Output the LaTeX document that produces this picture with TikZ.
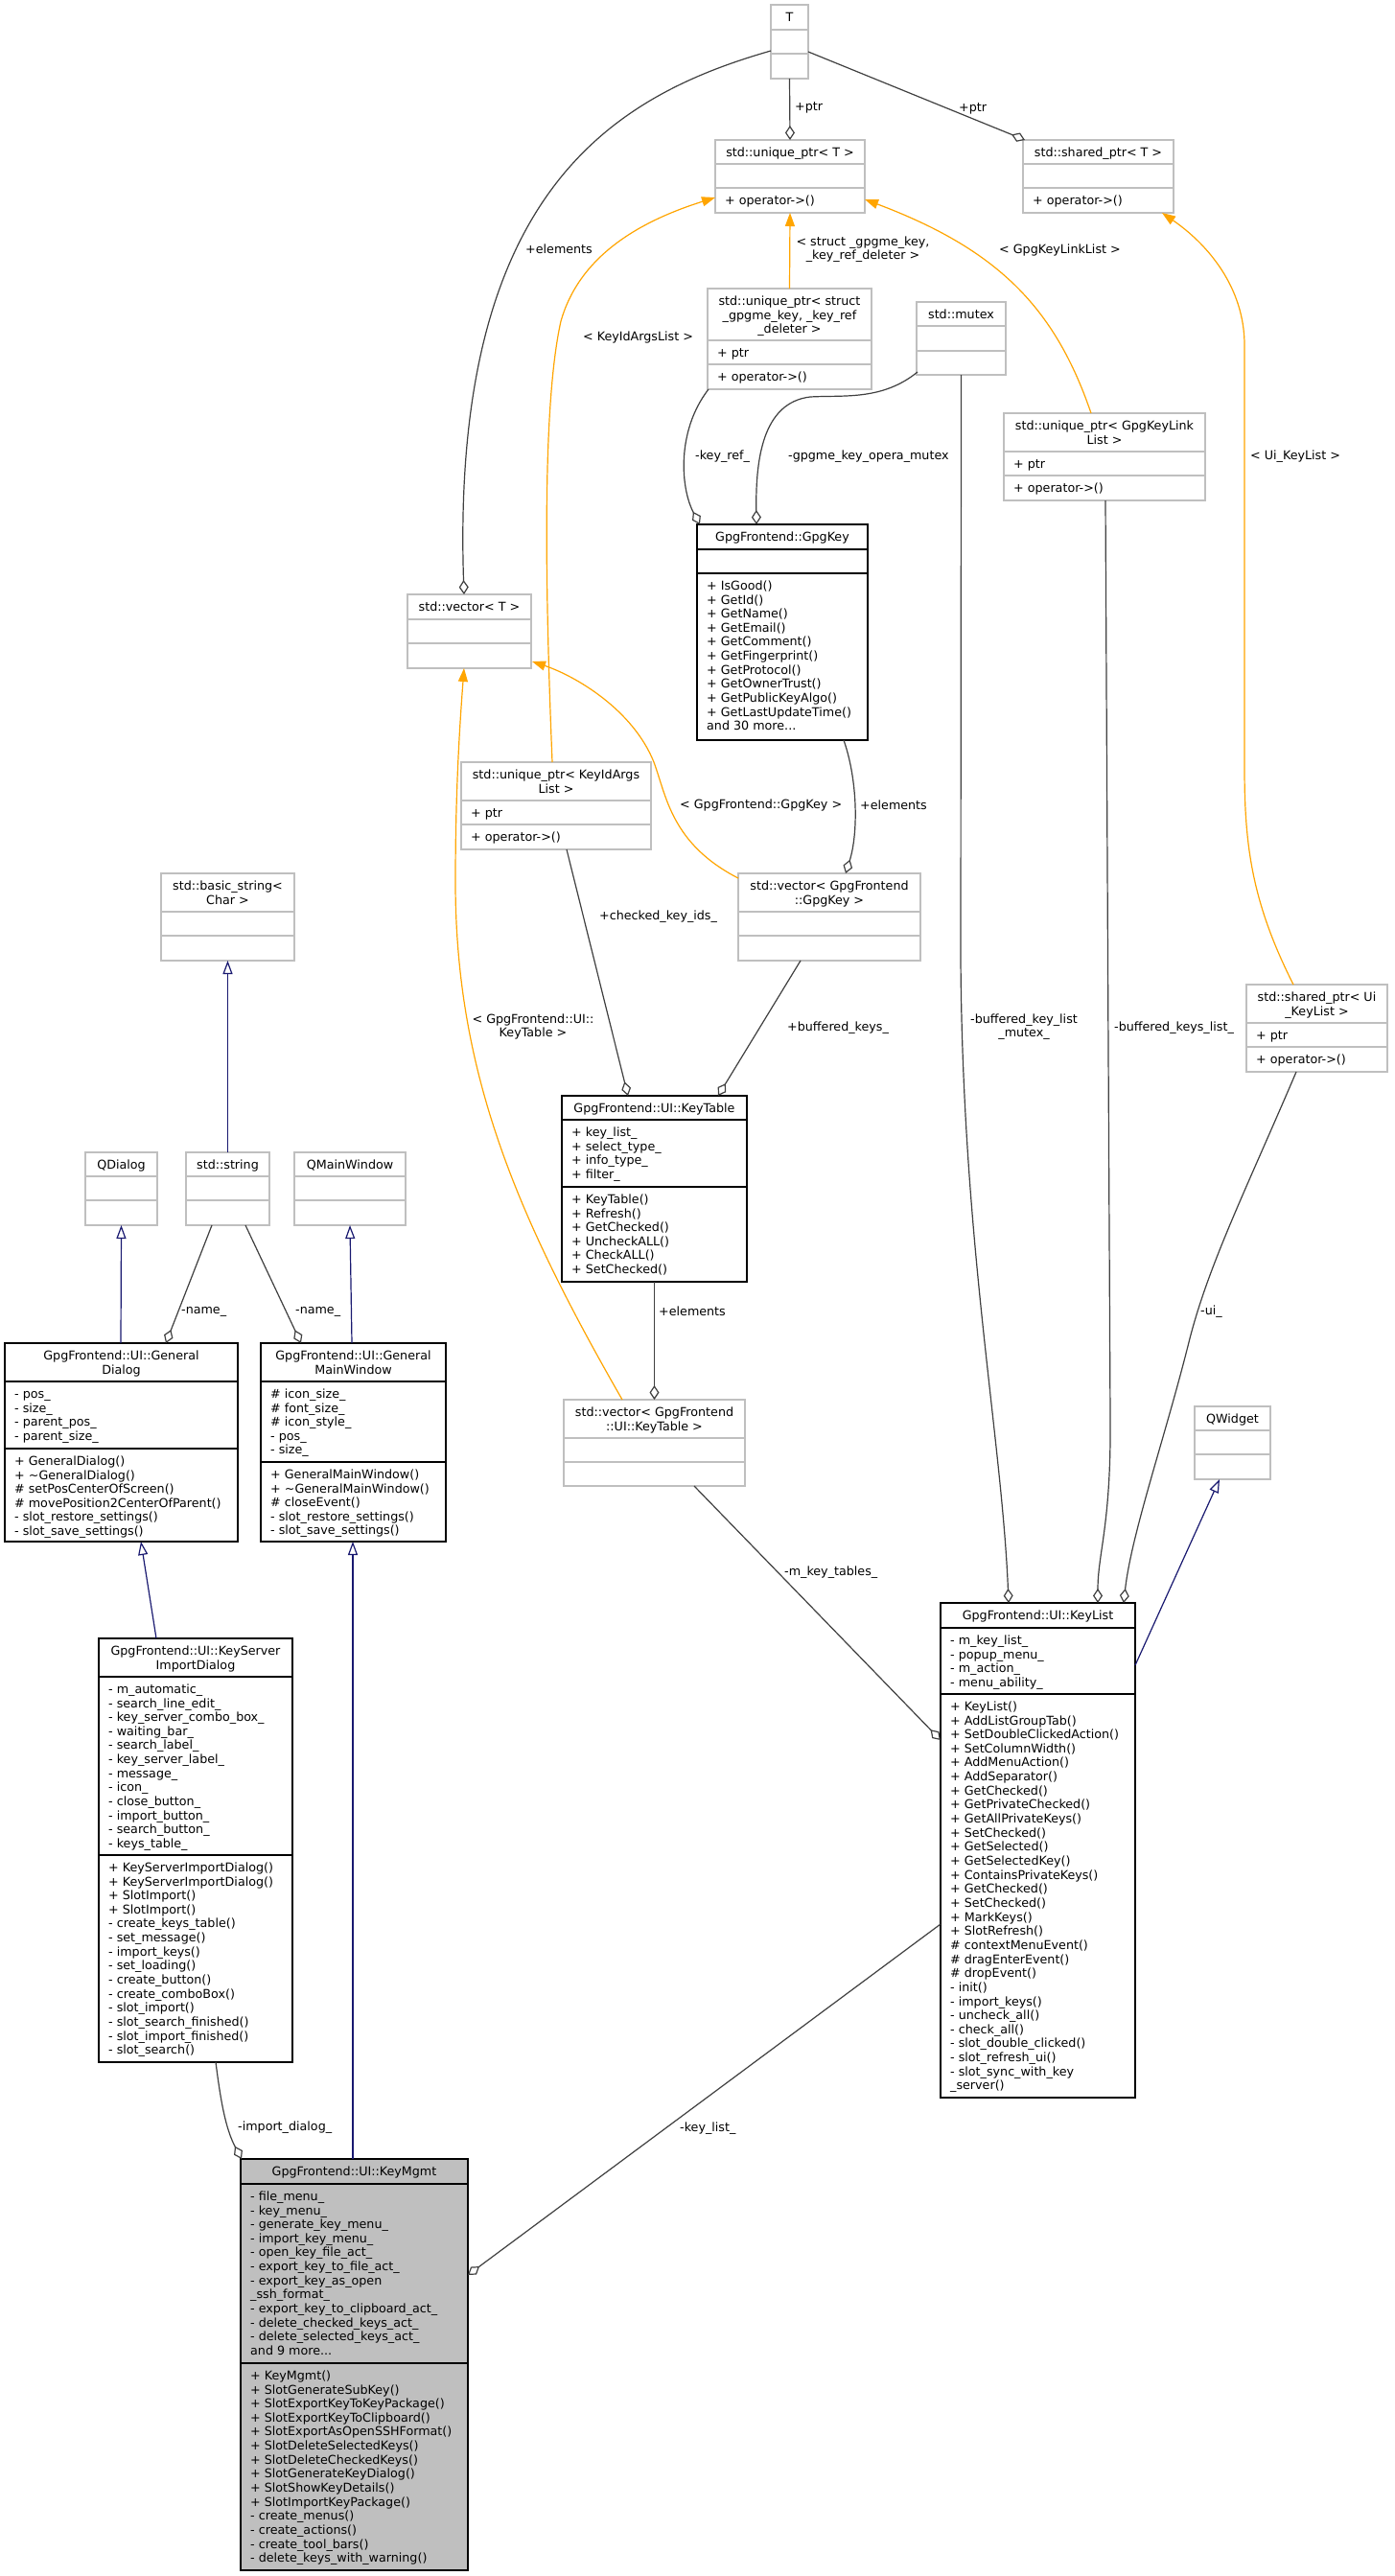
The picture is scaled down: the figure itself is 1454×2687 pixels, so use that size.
\documentclass[tikz,border=0pt]{standalone}
\usepackage{fontspec}
\setmainfont{DejaVu Sans}
\usetikzlibrary{arrows.meta,calc}
\definecolor{grey75}{HTML}{BFBFBF}
\definecolor{grey25}{HTML}{404040}
\definecolor{dxnavy}{HTML}{191970}
\definecolor{dxorange}{HTML}{FFA500}
\newcommand\dxfont{\fontsize{12.7pt}{14.65pt}\selectfont}
\newcommand\dxst{\rule[-3pt]{0pt}{14.65pt}}
\newcommand\dxbox[6]{\node[#6, anchor=north west, minimum width={#4-#2}, minimum height={#5-#3}] (#1) at (#2,#3) {};}
\newcommand\dxsep[4]{\draw[#4] (#1,#3) -- (#2,#3);}
\newcommand\dxtitle[4]{\node[ttltext] (#1) at (#2,{#3+5.5}) {\dxst #4};}
\newcommand\dxmem[4]{\node[memtext] (#1) at ({#2+10},{#3+5.5}) {\dxst #4};}
\tikzset{
  gbox/.style={draw=grey75, line width=1.5pt, fill=white, inner sep=0pt, outer sep=0pt},
  bbox/.style={draw=black, line width=1.5pt, fill=white, inner sep=0pt, outer sep=0pt},
  mgbox/.style={draw=black, line width=1.5pt, fill=grey75, inner sep=0pt, outer sep=0pt},
  gsep/.style={draw=grey75, line width=1.5pt},
  bsep/.style={draw=black, line width=1.5pt},
  ttltext/.style={anchor=north, align=center, inner sep=0pt, font=\dxfont},
  memtext/.style={anchor=north west, align=left, inner sep=0pt, font=\dxfont},
  lbl/.style={anchor=west, inner sep=0pt, font=\dxfont},
  lblc/.style={anchor=center, align=center, inner sep=0pt, font=\dxfont},
  usearrow/.style={draw=grey25, line width=1.2pt, -{Diamond[open,length=15pt,width=10pt]}},
  tmplarrow/.style={draw=dxorange, line width=1.2pt, -{Triangle[length=14pt,width=10pt,fill=dxorange]}},
  inharrow/.style={draw=dxnavy, line width=1.2pt, -{Triangle[open,length=14pt,width=10pt]}},
}
\begin{document}
\begin{tikzpicture}[x=1pt,y=-1pt]
\useasboundingbox (0,0) rectangle (1454,2687);
\fill[white] (0,0) rectangle (1454,2687);

% ---------- boxes ----------
% T
\dxbox{T}{804}{5}{843}{82}{gbox}
\dxsep{804}{843}{31}{gsep}\dxsep{804}{843}{56}{gsep}
\dxtitle{T-t}{823.5}{5}{T}
% unique_ptr<T>
\dxbox{uptrT}{746}{146}{902}{222}{gbox}
\dxsep{746}{902}{171}{gsep}\dxsep{746}{902}{196}{gsep}
\dxtitle{uptrT-t}{824}{146}{std::unique\_ptr< T >}
\dxmem{uptrT-m}{746}{196}{+ operator->()}
% shared_ptr<T>
\dxbox{sptrT}{1067}{146}{1224}{222}{gbox}
\dxsep{1067}{1224}{171}{gsep}\dxsep{1067}{1224}{196}{gsep}
\dxtitle{sptrT-t}{1145.5}{146}{std::shared\_ptr< T >}
\dxmem{sptrT-m}{1067}{196}{+ operator->()}
% unique_ptr<struct _gpgme_key, _key_ref_deleter>
\dxbox{uptrKey}{738}{301}{909}{406}{gbox}
\dxsep{738}{909}{355}{gsep}\dxsep{738}{909}{380}{gsep}
\dxtitle{uptrKey-t}{823.5}{301}{std::unique\_ptr< struct\\\_gpgme\_key, \_key\_ref\\\_deleter >}
\dxmem{uptrKey-a}{738}{355}{+ ptr}
\dxmem{uptrKey-m}{738}{380}{+ operator->()}
% std::mutex
\dxbox{mutex}{956}{315}{1049}{391}{gbox}
\dxsep{956}{1049}{340}{gsep}\dxsep{956}{1049}{366}{gsep}
\dxtitle{mutex-t}{1002.5}{315}{std::mutex}
% unique_ptr<GpgKeyLinkList>
\dxbox{uptrLink}{1047}{431}{1257}{522}{gbox}
\dxsep{1047}{1257}{471}{gsep}\dxsep{1047}{1257}{496}{gsep}
\dxtitle{uptrLink-t}{1152}{431}{std::unique\_ptr< GpgKeyLink\\List >}
\dxmem{uptrLink-a}{1047}{471}{+ ptr}
\dxmem{uptrLink-m}{1047}{496}{+ operator->()}
% GpgKey
\dxbox{GpgKey}{727}{547}{905}{772}{bbox}
\dxsep{727}{905}{573}{bsep}\dxsep{727}{905}{598}{bsep}
\dxtitle{GpgKey-t}{816}{547}{GpgFrontend::GpgKey}
\dxmem{GpgKey-m}{727}{598}{+ IsGood()\\+ GetId()\\+ GetName()\\+ GetEmail()\\+ GetComment()\\+ GetFingerprint()\\+ GetProtocol()\\+ GetOwnerTrust()\\+ GetPublicKeyAlgo()\\+ GetLastUpdateTime()\\and 30 more...}
% std::vector<T>
\dxbox{vecT}{425}{620}{554}{697}{gbox}
\dxsep{425}{554}{646}{gsep}\dxsep{425}{554}{671}{gsep}
\dxtitle{vecT-t}{489.5}{620}{std::vector< T >}
% unique_ptr<KeyIdArgsList>
\dxbox{uptrArgs}{481}{795}{679}{886}{gbox}
\dxsep{481}{679}{835}{gsep}\dxsep{481}{679}{860}{gsep}
\dxtitle{uptrArgs-t}{580}{795}{std::unique\_ptr< KeyIdArgs\\List >}
\dxmem{uptrArgs-a}{481}{835}{+ ptr}
\dxmem{uptrArgs-m}{481}{860}{+ operator->()}
% vector<GpgKey>
\dxbox{vecKey}{770}{911}{960}{1002}{gbox}
\dxsep{770}{960}{951}{gsep}\dxsep{770}{960}{976}{gsep}
\dxtitle{vecKey-t}{865}{911}{std::vector< GpgFrontend\\::GpgKey >}
% basic_string<Char>
\dxbox{bstr}{168}{911}{307}{1002}{gbox}
\dxsep{168}{307}{951}{gsep}\dxsep{168}{307}{976}{gsep}
\dxtitle{bstr-t}{237.5}{911}{std::basic\_string<\\Char >}
% shared_ptr<Ui_KeyList>
\dxbox{sptrUi}{1300}{1027}{1447}{1118}{gbox}
\dxsep{1300}{1447}{1067}{gsep}\dxsep{1300}{1447}{1092}{gsep}
\dxtitle{sptrUi-t}{1373.5}{1027}{std::shared\_ptr< Ui\\\_KeyList >}
\dxmem{sptrUi-a}{1300}{1067}{+ ptr}
\dxmem{sptrUi-m}{1300}{1092}{+ operator->()}
% KeyTable
\dxbox{KeyTable}{586}{1143}{779}{1337}{bbox}
\dxsep{586}{779}{1168}{bsep}\dxsep{586}{779}{1238}{bsep}
\dxtitle{KeyTable-t}{682.5}{1143}{GpgFrontend::UI::KeyTable}
\dxmem{KeyTable-a}{586}{1168}{+ key\_list\_\\+ select\_type\_\\+ info\_type\_\\+ filter\_}
\dxmem{KeyTable-m}{586}{1238}{+ KeyTable()\\+ Refresh()\\+ GetChecked()\\+ UncheckALL()\\+ CheckALL()\\+ SetChecked()}
% QDialog
\dxbox{QDialog}{89}{1202}{164}{1278}{gbox}
\dxsep{89}{164}{1227}{gsep}\dxsep{89}{164}{1252}{gsep}
\dxtitle{QDialog-t}{126.5}{1202}{QDialog}
% std::string
\dxbox{string}{194}{1202}{281}{1278}{gbox}
\dxsep{194}{281}{1227}{gsep}\dxsep{194}{281}{1252}{gsep}
\dxtitle{string-t}{237.5}{1202}{std::string}
% QMainWindow
\dxbox{QMainWindow}{307}{1202}{423}{1278}{gbox}
\dxsep{307}{423}{1227}{gsep}\dxsep{307}{423}{1252}{gsep}
\dxtitle{QMainWindow-t}{365}{1202}{QMainWindow}
% GeneralDialog
\dxbox{GenDlg}{5}{1401}{248}{1608}{bbox}
\dxsep{5}{248}{1441}{bsep}\dxsep{5}{248}{1511}{bsep}
\dxtitle{GenDlg-t}{126.5}{1401}{GpgFrontend::UI::General\\Dialog}
\dxmem{GenDlg-a}{5}{1441}{- pos\_\\- size\_\\- parent\_pos\_\\- parent\_size\_}
\dxmem{GenDlg-m}{5}{1511}{+ GeneralDialog()\\+ \textasciitilde GeneralDialog()\\\# setPosCenterOfScreen()\\\# movePosition2CenterOfParent()\\- slot\_restore\_settings()\\- slot\_save\_settings()}
% GeneralMainWindow
\dxbox{GenMW}{272}{1401}{465}{1608}{bbox}
\dxsep{272}{465}{1441}{bsep}\dxsep{272}{465}{1525}{bsep}
\dxtitle{GenMW-t}{368.5}{1401}{GpgFrontend::UI::General\\MainWindow}
\dxmem{GenMW-a}{272}{1441}{\# icon\_size\_\\\# font\_size\_\\\# icon\_style\_\\- pos\_\\- size\_}
\dxmem{GenMW-m}{272}{1525}{+ GeneralMainWindow()\\+ \textasciitilde GeneralMainWindow()\\\# closeEvent()\\- slot\_restore\_settings()\\- slot\_save\_settings()}
% vector<KeyTable>
\dxbox{vecKT}{588}{1460}{777}{1550}{gbox}
\dxsep{588}{777}{1500}{gsep}\dxsep{588}{777}{1525}{gsep}
\dxtitle{vecKT-t}{682.5}{1460}{std::vector< GpgFrontend\\::UI::KeyTable >}
% QWidget
\dxbox{QWidget}{1246}{1467}{1325}{1543}{gbox}
\dxsep{1246}{1325}{1492}{gsep}\dxsep{1246}{1325}{1517}{gsep}
\dxtitle{QWidget-t}{1285.5}{1467}{QWidget}
% KeyList
\dxbox{KeyList}{981}{1672}{1184}{2188}{bbox}
\dxsep{981}{1184}{1698}{bsep}\dxsep{981}{1184}{1767}{bsep}
\dxtitle{KeyList-t}{1082.5}{1672}{GpgFrontend::UI::KeyList}
\dxmem{KeyList-a}{981}{1698}{- m\_key\_list\_\\- popup\_menu\_\\- m\_action\_\\- menu\_ability\_}
\dxmem{KeyList-m}{981}{1767}{+ KeyList()\\+ AddListGroupTab()\\+ SetDoubleClickedAction()\\+ SetColumnWidth()\\+ AddMenuAction()\\+ AddSeparator()\\+ GetChecked()\\+ GetPrivateChecked()\\+ GetAllPrivateKeys()\\+ SetChecked()\\+ GetSelected()\\+ GetSelectedKey()\\+ ContainsPrivateKeys()\\+ GetChecked()\\+ SetChecked()\\+ MarkKeys()\\+ SlotRefresh()\\\# contextMenuEvent()\\\# dragEnterEvent()\\\# dropEvent()\\- init()\\- import\_keys()\\- uncheck\_all()\\- check\_all()\\- slot\_double\_clicked()\\- slot\_refresh\_ui()\\- slot\_sync\_with\_key\\\_server()}
% KeyServerImportDialog
\dxbox{KSID}{103}{1709}{305}{2151}{bbox}
\dxsep{103}{305}{1749}{bsep}\dxsep{103}{305}{1935}{bsep}
\dxtitle{KSID-t}{204}{1709}{GpgFrontend::UI::KeyServer\\ImportDialog}
\dxmem{KSID-a}{103}{1749}{- m\_automatic\_\\- search\_line\_edit\_\\- key\_server\_combo\_box\_\\- waiting\_bar\_\\- search\_label\_\\- key\_server\_label\_\\- message\_\\- icon\_\\- close\_button\_\\- import\_button\_\\- search\_button\_\\- keys\_table\_}
\dxmem{KSID-m}{103}{1935}{+ KeyServerImportDialog()\\+ KeyServerImportDialog()\\+ SlotImport()\\+ SlotImport()\\- create\_keys\_table()\\- set\_message()\\- import\_keys()\\- set\_loading()\\- create\_button()\\- create\_comboBox()\\- slot\_import()\\- slot\_search\_finished()\\- slot\_import\_finished()\\- slot\_search()}
% KeyMgmt
\dxbox{KeyMgmt}{251}{2252}{488}{2681}{mgbox}
\dxsep{251}{488}{2278}{bsep}\dxsep{251}{488}{2465}{bsep}
\dxtitle{KeyMgmt-t}{369.5}{2252}{GpgFrontend::UI::KeyMgmt}
\dxmem{KeyMgmt-a}{251}{2278}{- file\_menu\_\\- key\_menu\_\\- generate\_key\_menu\_\\- import\_key\_menu\_\\- open\_key\_file\_act\_\\- export\_key\_to\_file\_act\_\\- export\_key\_as\_open\\\_ssh\_format\_\\- export\_key\_to\_clipboard\_act\_\\- delete\_checked\_keys\_act\_\\- delete\_selected\_keys\_act\_\\and 9 more...}
\dxmem{KeyMgmt-m}{251}{2465}{+ KeyMgmt()\\+ SlotGenerateSubKey()\\+ SlotExportKeyToKeyPackage()\\+ SlotExportKeyToClipboard()\\+ SlotExportAsOpenSSHFormat()\\+ SlotDeleteSelectedKeys()\\+ SlotDeleteCheckedKeys()\\+ SlotGenerateKeyDialog()\\+ SlotShowKeyDetails()\\+ SlotImportKeyPackage()\\- create\_menus()\\- create\_actions()\\- create\_tool\_bars()\\- delete\_keys\_with\_warning()}

% ---------- connectors ----------
\draw[usearrow] (T.south) -- (uptrT.north);
\draw[usearrow] ($(T.north east)+(0,49)$) -- ($(sptrT.north west)+(2,0)$);
\draw[usearrow] ($(T.north west)+(0,48)$) .. controls (640,100) and (470,200) .. ($(vecT.north west)+(59,0)$);
\draw[tmplarrow] (uptrKey.north) -- (uptrT.south);
\draw[tmplarrow] ($(uptrArgs.north west)+(95,0)$) .. controls (568,600) and (566,420) .. (585,335) .. controls (605,265) and (670,230) .. ($(uptrT.north west)+(0,60)$);
\draw[tmplarrow] ($(uptrLink.north west)+(91,0)$) .. controls (1100,320) and (1040,260) .. ($(uptrT.north east)+(0,62)$);
\draw[tmplarrow] ($(sptrUi.north west)+(49,0)$) .. controls (1305,940) and (1298,880) .. (1298,800) -- (1298,360) .. controls (1298,300) and (1260,255) .. ($(sptrT.south east)+(-12,0)$);
\draw[usearrow] ($(uptrKey.south west)+(1,0)$) .. controls (705,450) and (710,510) .. ($(GpgKey.north west)+(3,0)$);
\draw[usearrow] ($(mutex.south west)+(1,-3)$) .. controls (920,418) and (880,412) .. (845,414) .. controls (795,420) and (788,480) .. ($(GpgKey.north west)+(62,0)$);
\draw[usearrow] (mutex.south) -- (1002,1000) .. controls (1004,1300) and (1045,1500) .. ($(KeyList.north west)+(71,0)$);
\draw[usearrow] ($(uptrLink.south west)+(106,0)$) -- (1158,1480) .. controls (1159,1590) and (1145,1620) .. ($(KeyList.north west)+(164,0)$);
\draw[usearrow] ($(sptrUi.south west)+(52,0)$) .. controls (1300,1240) and (1260,1320) .. (1240,1400) .. controls (1215,1500) and (1180,1600) .. ($(KeyList.north west)+(191,0)$);
\draw[usearrow] ($(GpgKey.south west)+(153,0)$) .. controls (895,815) and (895,870) .. ($(vecKey.north west)+(112,0)$);
\draw[tmplarrow] ($(vecKey.north west)+(0,5)$) .. controls (700,880) and (695,830) .. (682,795) .. controls (660,740) and (600,705) .. ($(vecT.north east)+(1,70)$);
\draw[tmplarrow] ($(vecKT.north west)+(61,0)$) .. controls (540,1270) and (475,1120) .. (475,920) .. controls (475,820) and (480,750) .. ($(vecT.south west)+(59,0)$);
\draw[usearrow] ($(uptrArgs.south west)+(110,0)$) -- ($(KeyTable.north west)+(69,0)$);
\draw[usearrow] ($(vecKey.south west)+(65,0)$) -- ($(KeyTable.north west)+(163,0)$);
\draw[usearrow] (KeyTable.south) -- (vecKT.north);
\draw[inharrow] (string.north) -- (bstr.south);
\draw[usearrow] ($(string.south west)+(27,0)$) -- ($(GenDlg.north west)+(168,0)$);
\draw[usearrow] ($(string.south west)+(62,0)$) -- ($(GenMW.north west)+(42,0)$);
\draw[inharrow] ($(GenDlg.north west)+(121,0)$) -- (QDialog.south);
\draw[inharrow] ($(GenMW.north west)+(95,0)$) -- (QMainWindow.south);
\draw[inharrow] ($(KSID.north west)+(60,0)$) -- ($(GenDlg.south west)+(142,0)$);
\draw[inharrow] ($(KeyMgmt.north west)+(117,0)$) -- ($(GenMW.south west)+(96,0)$);
\draw[usearrow] ($(KSID.south west)+(122,0)$) .. controls (230,2190) and (235,2220) .. ($(KeyMgmt.north west)+(1,0)$);
\draw[usearrow] ($(vecKT.south west)+(136,0)$) -- ($(KeyList.north west)+(0,143)$);
\draw[usearrow] ($(KeyList.north west)+(0,335)$) -- ($(KeyMgmt.north east)+(0,121)$);
\draw[inharrow] ($(KeyList.north east)+(0,65)$) -- ($(QWidget.south west)+(26,0)$);

% ---------- labels ----------
\node[lbl] (l1) at (829,112) {+ptr};
\node[lbl] (l2) at (1000,113) {+ptr};
\node[lbl] (l3) at (548,260) {+elements};
\node[lblc] (l4) at (900,260) {< struct \_gpgme\_key,\\ \_key\_ref\_deleter >};
\node[lbl] (l5) at (608,352) {< KeyIdArgsList >};
\node[lbl] (l6) at (1042,261) {< GpgKeyLinkList >};
\node[lbl] (l7) at (1304,476) {< Ui\_KeyList >};
\node[lbl] (l8) at (725,476) {-key\_ref\_};
\node[lbl] (l9) at (822,476) {-gpgme\_key\_opera\_mutex};
\node[lbl] (l10) at (709,840) {< GpgFrontend::GpgKey >};
\node[lbl] (l11) at (897,840) {+elements};
\node[lbl] (l12) at (625,956) {+checked\_key\_ids\_};
\node[lbl] (l13) at (821,1072) {+buffered\_keys\_};
\node[lblc] (l14) at (1068,1071) {-buffered\_key\_list\\\_mutex\_};
\node[lbl] (l15) at (1162,1072) {-buffered\_keys\_list\_};
\node[lblc] (l16) at (556,1071) {< GpgFrontend::UI::\\KeyTable >};
\node[lbl] (l17) at (1252,1368) {-ui\_};
\node[lbl] (l18) at (687,1368) {+elements};
\node[lbl] (l19) at (189,1368) {-name\_};
\node[lbl] (l20) at (308,1368) {-name\_};
\node[lbl] (l21) at (248,2219) {-import\_dialog\_};
\node[lbl] (l22) at (818,1640) {-m\_key\_tables\_};
\node[lbl] (l23) at (709,2220) {-key\_list\_};
\end{tikzpicture}
\end{document}
